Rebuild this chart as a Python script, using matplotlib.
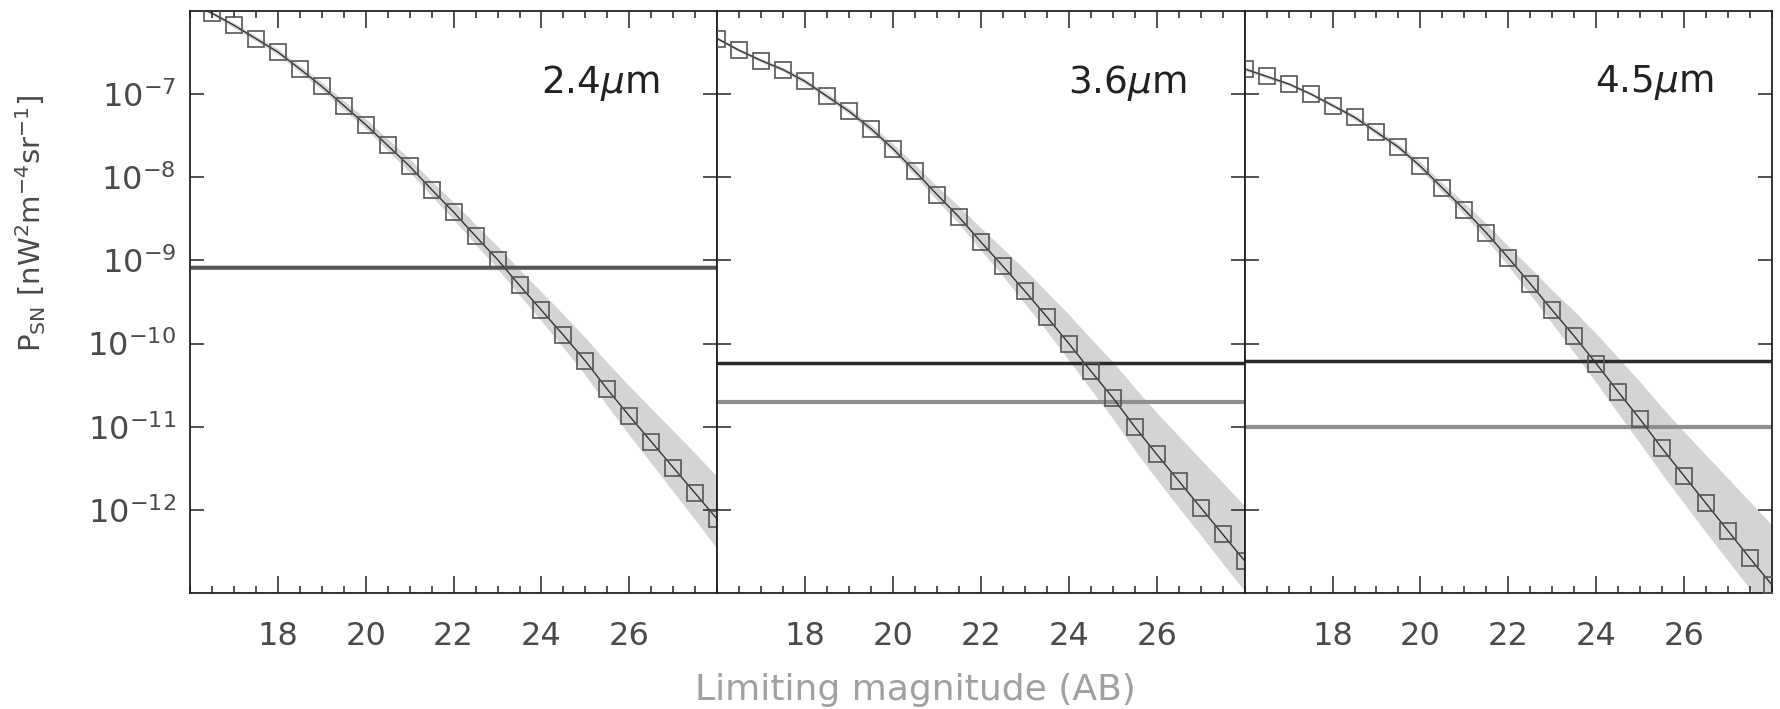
import numpy as np
import matplotlib
matplotlib.use('Agg')
import matplotlib.pyplot as plt
from matplotlib.ticker import MultipleLocator, NullLocator

# limiting magnitude grid (AB)
mags = [16.0, 16.5, 17.0, 17.5, 18.0, 18.5, 19.0, 19.5, 20.0, 20.5, 21.0, 21.5,
        22.0, 22.5, 23.0, 23.5, 24.0, 24.5, 25.0, 25.5, 26.0, 26.5, 27.0, 27.5, 28.0]

# log10 of shot-noise power per band
logp_24 = [-5.90, -6.03, -6.175, -6.336, -6.497, -6.70, -6.91, -7.14, -7.37, -7.62,
           -7.87, -8.15, -8.42, -8.71, -8.99, -9.30, -9.60, -9.90, -10.21, -10.55,
           -10.87, -11.18, -11.49, -11.80, -12.11]
logp_36 = [-6.336, -6.477, -6.60, -6.71, -6.85, -7.03, -7.21, -7.42, -7.66, -7.93,
           -8.21, -8.48, -8.78, -9.07, -9.37, -9.68, -10.00, -10.33, -10.65, -11.00,
           -11.33, -11.65, -11.97, -12.29, -12.61]
logp_45 = [-6.70, -6.79, -6.88, -7.00, -7.14, -7.28, -7.46, -7.64, -7.87, -8.13,
           -8.39, -8.67, -8.97, -9.28, -9.60, -9.91, -10.24, -10.58, -10.91, -11.26,
           -11.59, -11.92, -12.25, -12.58, -12.90]

# uncertainty band, offsets above / below in dex
up_24 = [0.02, 0.02, 0.03, 0.03, 0.04, 0.04, 0.05, 0.06, 0.07, 0.08, 0.09, 0.10,
         0.12, 0.14, 0.16, 0.19, 0.22, 0.25, 0.28, 0.32, 0.36, 0.40, 0.44, 0.48, 0.51]
lo_24 = [0.02, 0.02, 0.03, 0.03, 0.03, 0.04, 0.04, 0.05, 0.05, 0.06, 0.07, 0.08,
         0.09, 0.10, 0.11, 0.12, 0.13, 0.15, 0.17, 0.20, 0.23, 0.26, 0.29, 0.32, 0.36]
up_36 = [0.02, 0.02, 0.02, 0.03, 0.03, 0.04, 0.04, 0.05, 0.06, 0.08, 0.10, 0.13,
         0.17, 0.21, 0.26, 0.30, 0.35, 0.39, 0.43, 0.47, 0.50, 0.54, 0.58, 0.62, 0.66]
lo_36 = [0.02, 0.02, 0.02, 0.02, 0.03, 0.03, 0.03, 0.04, 0.04, 0.05, 0.07, 0.08,
         0.10, 0.12, 0.15, 0.17, 0.20, 0.22, 0.25, 0.28, 0.30, 0.32, 0.33, 0.35, 0.36]
up_45 = [0.02, 0.02, 0.02, 0.02, 0.03, 0.03, 0.04, 0.04, 0.05, 0.06, 0.08, 0.11,
         0.14, 0.19, 0.24, 0.30, 0.36, 0.41, 0.45, 0.49, 0.53, 0.58, 0.63, 0.68, 0.72]
lo_45 = [0.02, 0.02, 0.02, 0.02, 0.02, 0.03, 0.03, 0.03, 0.04, 0.05, 0.06, 0.08,
         0.10, 0.13, 0.16, 0.20, 0.23, 0.26, 0.29, 0.31, 0.33, 0.35, 0.36, 0.37, 0.38]

# reference levels (dark, grey)
hline_dark = [8.3e-10, 5.85e-11, 6.1e-11]
hline_grey = [8.0e-10, 2.0e-11, 1.0e-11]

bands = ['2.4', '3.6', '4.5']
logps = [logp_24, logp_36, logp_45]
ups = [up_24, up_36, up_45]
los = [lo_24, lo_36, lo_45]

fig, axes = plt.subplots(1, 3, figsize=(17.8, 7.09), dpi=100, sharey=True,
                         gridspec_kw={'wspace': 0})
fig.subplots_adjust(left=0.1067, right=0.9955, top=0.985, bottom=0.1632)

for i, ax in enumerate(axes):
    m = np.array(mags)
    lp = np.array(logps[i])
    p = 10 ** lp
    ax.fill_between(m, 10 ** (lp + np.array(ups[i])), 10 ** (lp - np.array(los[i])),
                    color='#d4d4d4', lw=0, zorder=1)
    ax.axhline(hline_grey[i], color='#8f8f8f', lw=3, zorder=2)
    ax.axhline(hline_dark[i], color='#2a2a2a' if i else '#555555', lw=2.5, zorder=2)
    ax.plot(m, p, color='#333333', lw=1, zorder=3)
    ax.plot(m, p, 's', mfc='none', mec='#555555', ms=11, mew=1.2, zorder=4)

    ax.set_yscale('log')
    ax.set_xlim(16, 28)
    ax.set_ylim(1e-13, 1e-6)
    ax.set_yticks([1e-12, 1e-11, 1e-10, 1e-9, 1e-8, 1e-7])
    ax.yaxis.set_minor_locator(NullLocator())
    ax.set_xticks([18, 20, 22, 24, 26])
    ax.xaxis.set_minor_locator(MultipleLocator(0.5))

    ax.tick_params(which='both', direction='in', top=True, right=True,
                   colors='#222222', labelcolor='#4a4a4a', labelsize=23, width=1.1)
    ax.tick_params(axis='x', which='major', length=12, pad=20)
    ax.tick_params(axis='x', which='minor', length=5)
    ax.tick_params(axis='y', which='major', length=10, pad=10)
    if i > 0:
        ax.tick_params(axis='y', labelleft=False)
    for s in ax.spines.values():
        s.set_color('#222222')
        s.set_linewidth(1.3)

    ax.text(0.89, 0.876, bands[i] + r'$\mu$m', transform=ax.transAxes,
            ha='right', va='center', fontsize=27, color='#222222')

fig.text(0.514, 0.027, 'Limiting magnitude (AB)', ha='center', va='center',
         fontsize=26, color='#a0a0a0')
fig.text(0.017, 0.685, r'$\mathrm{P_{SN}}\ \left[\mathrm{nW^{2}m^{-4}sr^{-1}}\right]$',
         rotation=90, ha='center', va='center', fontsize=21, color='#4a4a4a')

fig.savefig('out.png', dpi=100)
